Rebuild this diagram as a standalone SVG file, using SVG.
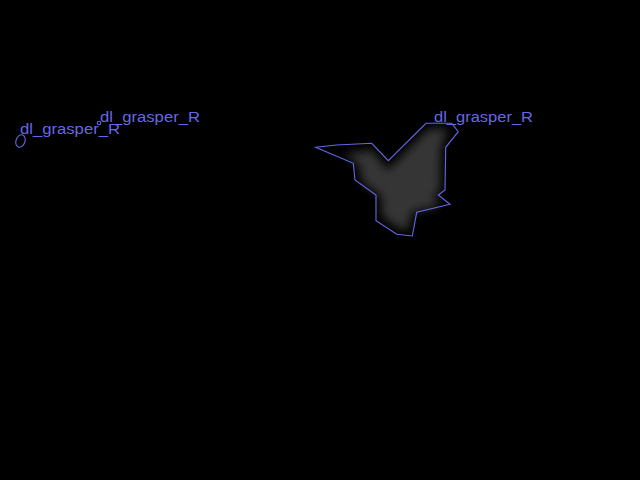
<svg xmlns="http://www.w3.org/2000/svg" width="640" height="480" viewBox="0 0 640 480">
<defs>
<style>
.lbl{font-family:"Liberation Sans",Arial,sans-serif;font-size:14px;fill:#6666e8}
.outline{fill:none;stroke:#6666e8;stroke-width:1.1}
</style>
<filter id="blur" x="-20%" y="-20%" width="140%" height="140%"><feGaussianBlur stdDeviation="5"/></filter>
</defs>
<rect width="640" height="480" fill="#000"/>
<g id="region-large">
<polygon points="344,154 372,150 388,170 428,129 448,129 441,148 440,190 434,197 440,206 412,212 408,230 398,228 382,216 381,196 362,182 359,165" fill="#363636" filter="url(#blur)"/>
<polygon class="outline" points="315.7,147.3 336.7,145 371.7,143.3 388.3,160.7 426,123.3 451.7,123.3 458.3,131.7 445.7,147.3 445,190 438.3,195 450,204.3 416.7,212.3 412.3,236 396.7,234.3 376,220.7 376,195 355,180 353.3,163.3"/>
<text class="lbl" x="434" y="122" textLength="99" lengthAdjust="spacingAndGlyphs">dl_grasper_R</text>
</g>
<g id="region-small-1">
<ellipse class="outline" cx="20.5" cy="141" rx="4.5" ry="6.5" transform="rotate(20 20.5 141)"/>
<text class="lbl" x="20" y="134" textLength="100" lengthAdjust="spacingAndGlyphs">dl_grasper_R</text>
</g>
<g id="region-small-2">
<circle class="outline" cx="99" cy="123" r="1.8"/>
<text class="lbl" x="100" y="122" textLength="100" lengthAdjust="spacingAndGlyphs">dl_grasper_R</text>
</g>
<g id="connectors"/>
</svg>
